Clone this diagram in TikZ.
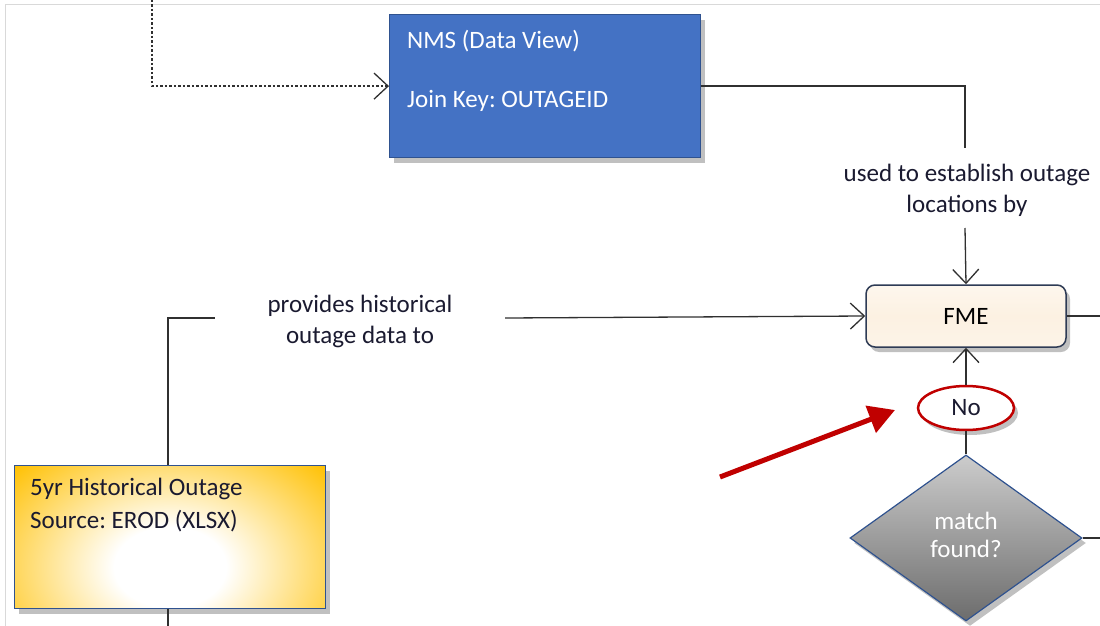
\documentclass[tikz,border=0pt]{standalone}
\usepackage{fontspec}
\setmainfont{Carlito}
\usetikzlibrary{arrows.meta,shapes.geometric,shadows,positioning}
\definecolor{nmsblue}{HTML}{4472C4}
\definecolor{nmsedge}{HTML}{2F528F}
\definecolor{gold}{HTML}{FFC000}
\definecolor{fmefill}{HTML}{FCF1E2}
\definecolor{fmeedge}{HTML}{2E3B55}
\definecolor{redc}{HTML}{C00000}
\definecolor{linec}{HTML}{303030}
\definecolor{txtc}{HTML}{1A1A30}
\pgfdeclareradialshading{histshade}{\pgfpoint{0bp}{0bp}}{%
  color(0bp)=(white); color(9bp)=(white); color(34bp)=(gold); color(100bp)=(gold)}
\tikzset{
  conn/.style={draw=linec, line width=1.3pt},
  openarrow/.style={-{Straight Barb[length=14pt,width=26pt,line width=1.3pt]}},
  lbl/.style={text=txtc, font=\fontsize{25}{31}\selectfont, align=center},
  boxtext/.style={font=\fontsize{25}{28}\selectfont, anchor=west, inner sep=0pt},
  myshadow/.style={drop shadow={shadow xshift=4pt, shadow yshift=-5pt, opacity=0.35, fill=black!70}},
}
\frenchspacing
\begin{document}
\begin{tikzpicture}[x=1pt,y=-1pt]
\useasboundingbox (0,0) rectangle (1100,626);
\fill[white] (0,0) rectangle (1100,626);
% frame lines
\draw[gray!30, line width=1pt] (5,626) -- (5,5) -- (1100,5);

% NMS box
\node[draw=nmsedge, line width=1.2pt, fill=nmsblue, minimum width=311pt, minimum height=143pt, anchor=north west, myshadow] (nms) at (389,14) {};
\node[boxtext, text=white] (nmst1) at (407,41) {NMS (Data View)};
\node[boxtext, text=white] (nmst2) at (407,101) {Join Key: OUTAGEID};

% FME box
\node[draw=fmeedge, line width=1.5pt, rounded corners=9pt, top color=fmefill!60, bottom color=fmefill!100!brown!80, middle color=fmefill, minimum width=200pt, minimum height=62pt, myshadow, font=\fontsize{25}{28}\selectfont, text=black] (fme) at (966,316) {FME};

% No ellipse
\node[ellipse, draw=redc, line width=2.5pt, fill=white, minimum width=96pt, minimum height=44pt, inner sep=0pt, myshadow, font=\fontsize{25}{28}\selectfont, text=txtc] (no) at (966,408) {No};

% diamond
\node[diamond, draw=nmsedge, line width=1.2pt, top color=gray!40, bottom color=gray!85!black, minimum width=232pt, minimum height=166pt, inner sep=0pt, aspect=1.4, myshadow] (dia) at (966,538) {};
\node[lbl, text=white, font=\fontsize{25}{28}\selectfont] (diat) at (966,535) {match\\found?};

% Historical box
\node[draw=nmsedge, line width=1.2pt, fill=gold, minimum width=311pt, minimum height=143pt, anchor=north west, myshadow,
  path picture={\shade[shading=histshade] ([yshift=-70pt]path picture bounding box.south west) rectangle ([yshift=10pt]path picture bounding box.north east);}] (hist) at (14,465) {};
\node[boxtext, text=txtc] (histt1) at (30,489) {5yr Historical Outage};
\node[boxtext, text=txtc] (histt2) at (30,521) {Source: EROD (XLSX)};

% labels
\node[lbl] (lblA) at (360,321) {provides historical\\outage data to};
\node[lbl] (lblB) at (967,190) {used to establish outage\\locations by};

% coordinates
\coordinate (dtop) at (152,0);
\coordinate (aEnd) at (215,318);
\coordinate (aStart) at (505,318);
\coordinate (bEnd) at (965,148);
\coordinate (bStart) at (965,228);
\coordinate (rEdge1) at (1100,316);
\coordinate (rEdge2) at (1100,538);
\coordinate (hbot) at (168,626);
\coordinate (redS) at (720,477);
\coordinate (redE) at (895,410);

% connectors
\draw[conn, dashed, dash pattern=on 2.5pt off 2pt, openarrow] (dtop) |- (nms.west);
\draw[conn] (nms.east) -| (bEnd);
\draw[conn, openarrow] (bStart) -- (fme.north);
\draw[conn] (hist.north -| hbot) |- (aEnd);
\draw[conn, openarrow] (aStart) -- (fme.west);
\draw[conn] (fme.east) -- (rEdge1);
\draw[conn, openarrow] (no.north) -- (fme.south);
\draw[conn] (dia.north) -- (no.south);
\draw[conn] (dia.east) -- (rEdge2);
\draw[conn] (hist.south -| hbot) -- (hbot);

% red arrow
\draw[redc, line width=5pt, -{Triangle[length=26pt,width=28pt]}] (redS) -- (redE);
\end{tikzpicture}
\end{document}
